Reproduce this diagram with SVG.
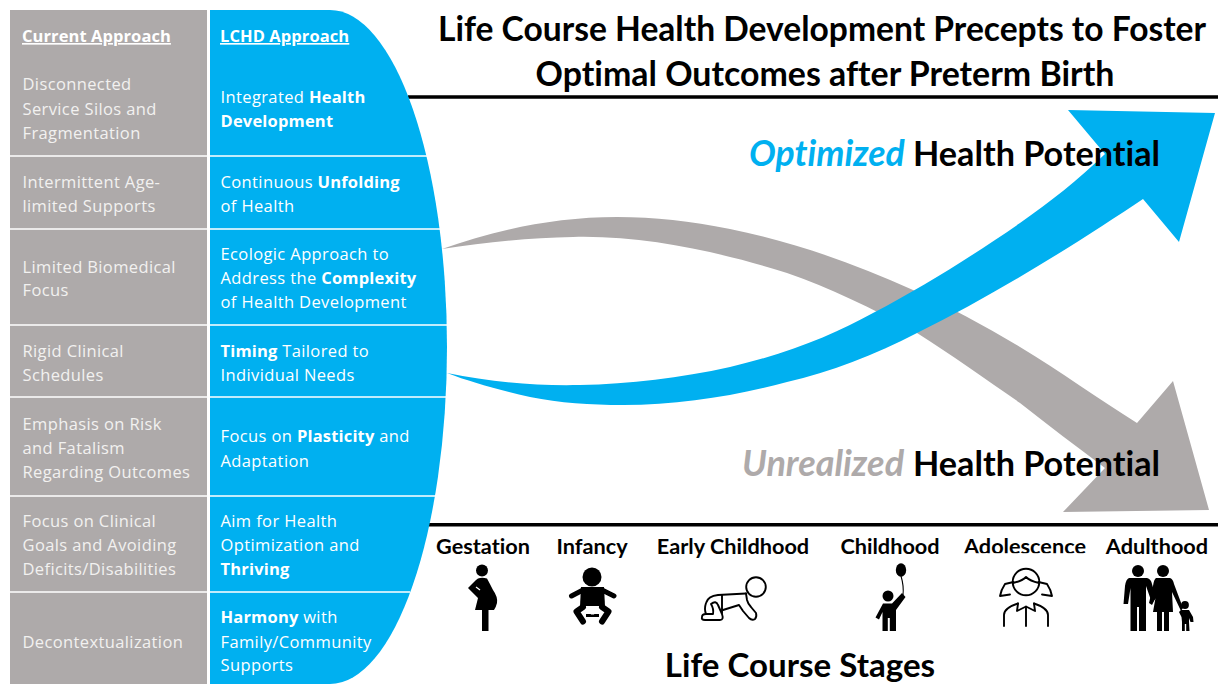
<svg xmlns="http://www.w3.org/2000/svg" width="1218" height="684" viewBox="0 0 1218 684">
<style>
text{font-variant-ligatures:none}
.l,.b{font-family:"Open Sans","Noto Sans",sans-serif;font-size:16.5px;letter-spacing:.38px}
.l{fill:#f2f1f0}
.b{fill:#fff}
.h{font-weight:700;text-decoration:underline;fill:#fff;letter-spacing:.08px}
.s{font-weight:700;letter-spacing:.18px}
.t{font-family:Lato,"Noto Sans",sans-serif;font-weight:700;fill:#000}
.st{font-size:21.7px;text-anchor:middle}
.sep{stroke:#fff;stroke-width:1.6}
.rule{stroke:#000;stroke-width:3.6}
.ol{fill:none;stroke:#000;stroke-width:1.9;stroke-linecap:round;stroke-linejoin:round}
.limb{fill:none;stroke:#000;stroke-linecap:round;stroke-linejoin:round}
</style>
<rect width="1218" height="684" fill="#fff"/>
<g id="title"><text class="t" x="822" y="41" font-size="33.6" text-anchor="middle">Life Course Health Development Precepts to Foster</text>
<text class="t" x="825" y="85.500" font-size="33.9" text-anchor="middle">Optimal Outcomes after Preterm Birth</text></g>
<path class="rule" d="M408 97H1218M429 524.7H1218"/>
<g id="connectors">
<path id="arrow-unrealized" fill="#aeaaaa" d="M442 249C495 230 555 217 617 217C655 217 690 221 730 229C795 242 855 264 913 290C950 307 985 326 1020 347C1060 371 1100 400 1137 423L1173 381L1209 510L1063 512L1105 468C1077 447 1048 425 1020 403C987 380 952 355 917 333C870 307 830 288 787 273C730 255 650 235 573 237C530 238 485 242 442 249Z"/>
<path id="arrow-optimized" fill="#00b0f0" d="M447 373C490 382 535 386 580 385C630 384 680 378 730 367C790 353 835 334 873 313C925 286 975 254 1020 223C1050 202 1078 180 1105 154L1068 110L1215 113L1179 242L1143 199C1085 238 1000 292 917 333C875 355 830 372 787 382C735 396 680 405 623 405C590 405 560 403 530 397C500 390 470 382 447 373Z"/>
</g>
<g id="current">
<rect x="10" y="10" width="197" height="674" fill="#aeaaaa"/>
</g>
<g id="lchd">
<path d="M210 10H330A117 337 0 0 1 330 684H210Z" fill="#00b0f0"/>
</g>
<path class="sep" d="M10 156H427M10 229H441M10 325H447M10 397H446M10 496H437M10 592H410"/>
<g id="current-text">
<text class="b h" x="22" y="42">Current Approach</text>
<text class="l" x="22.5" y="90">Disconnected</text><text class="l" x="22.5" y="115">Service Silos and</text><text class="l" x="22.5" y="139">Fragmentation</text>
<text class="l" x="22.5" y="188">Intermittent Age-</text><text class="l" x="22.5" y="212">limited Supports</text>
<text class="l" x="22.5" y="273">Limited Biomedical</text><text class="l" x="22.5" y="296">Focus</text>
<text class="l" x="22.5" y="357">Rigid Clinical</text><text class="l" x="22.5" y="381">Schedules</text>
<text class="l" x="22.5" y="430">Emphasis on Risk</text><text class="l" x="22.5" y="454">and Fatalism</text><text class="l" x="22.5" y="478">Regarding Outcomes</text>
<text class="l" x="22.5" y="527">Focus on Clinical</text><text class="l" x="22.5" y="551">Goals and Avoiding</text><text class="l" x="22.5" y="575">Deficits/Disabilities</text>
<text class="l" x="22.5" y="648">Decontextualization</text>
</g>
<g id="lchd-text">
<text class="b h" x="220" y="42">LCHD Approach</text>
<text class="b" x="220.5" y="103">Integrated <tspan class="s">Health</tspan></text><text class="b s" x="220.5" y="127">Development</text>
<text class="b" x="220.5" y="188">Continuous <tspan class="s">Unfolding</tspan></text><text class="b" x="220.5" y="212">of Health</text>
<text class="b" x="220.5" y="260">Ecologic Approach to</text><text class="b" x="220.5" y="284">Address the <tspan class="s">Complexity</tspan></text><text class="b" x="220.5" y="308">of Health Development</text>
<text class="b" x="220.5" y="357"><tspan class="s">Timing</tspan> Tailored to</text><text class="b" x="220.5" y="381">Individual Needs</text>
<text class="b" x="220.5" y="442">Focus on <tspan class="s">Plasticity</tspan> and</text><text class="b" x="220.5" y="467">Adaptation</text>
<text class="b" x="220.5" y="527">Aim for Health</text><text class="b" x="220.5" y="551">Optimization and</text><text class="b s" x="220.5" y="575">Thriving</text>
<text class="b" x="220.5" y="623"><tspan class="s">Harmony</tspan> with</text><text class="b" x="220.5" y="648">Family/Community</text><text class="b" x="220.5" y="671">Supports</text>
</g>
<g id="labels">
<text class="t" y="165.500"><tspan x="749" font-size="35.600" fill="#00b0f0" font-style="italic">Optimized</tspan><tspan x="913" font-size="34.200">Health Potential</tspan></text>
<text class="t" y="475.500"><tspan x="742" font-size="36" fill="#aeaaaa" font-style="italic">Unrealized</tspan><tspan x="913" font-size="34.200">Health Potential</tspan></text>
</g>
<g id="stages">
<text class="t st" x="483" y="554">Gestation</text>
<text class="t st" x="592" y="554">Infancy</text>
<text class="t st" x="733" y="554">Early Childhood</text>
<text class="t st" x="890" y="554">Childhood</text>
<text class="t st" x="1025" y="554">Adolescence</text>
<text class="t st" x="1157" y="554">Adulthood</text>
<rect x="962" y="553.2" width="126" height="7" fill="#fff"/>
<text class="t" x="800" y="677" font-size="33.1" text-anchor="middle">Life Course Stages</text>
</g>
<g id="icon-gestation">
<circle cx="482" cy="570.5" r="6"/>
<path d="M478 578.5Q482 577 487 578.5Q490 584 493 590Q498 597 497 603Q496 607 494 610H475L478 598L468 588L476 580Z"/>
<rect x="482" y="610" width="6.5" height="21"/>
<path d="M476 587L480 590" stroke="#fff" stroke-width="1.2"/>
</g>
<g id="icon-infancy">
<circle cx="592" cy="577" r="9.5"/>
<path class="limb" stroke-width="5" d="M571.500 596L583 590M614 596L602 590"/>
<path d="M581 587H604L605 606H580Z"/>
<path class="limb" stroke-width="6" d="M583 607L576.500 611.500L583 621.500M602 607L608.500 611.500L602 621.500"/>
<path d="M586 614H599V617H586Z"/>
<path fill="#fff" d="M586.500 606.500H598.500L594 614.500H591Z"/>
</g>
<g id="icon-early-childhood" class="ol">
<circle cx="756" cy="587" r="9.800"/>
<path d="M746 593.500L718 595Q708 596 706 603Q704 609 706 614"/>
<path d="M722 595V613"/>
<path d="M746 593.500L747 600Q748 604 751 607L756 613Q757 617 755 619Q752 621 749 618L743 611L739 605L723 610"/>
<path d="M711 604Q716 600 718 605L722 614Q724 620 720 620H705Q701 620 702 617Q702 614 706 614H713Q714 609 711 604Z"/>
</g>
<g id="icon-childhood">
<ellipse cx="901" cy="570" rx="5.200" ry="6.800"/>
<path d="M901 576Q904 586 903 595" fill="none" stroke="#000" stroke-width="1.100"/>
<circle cx="888" cy="596" r="5.500"/>
<path d="M883 603.500H892L902 593L905.500 597L896 610V631H889.800V618H887.800V631H882.500V612L879 619.500L875.500 617.500Z"/>
</g>
<g id="icon-adolescence" class="ol">
<circle cx="1026" cy="582" r="13.300"/>
<path d="M1013 583Q1022 581 1026 577Q1030 581 1039 583"/>
<path d="M1013.500 582L1005 584Q1001 590 1000 596L1010 594.500"/>
<path d="M1038.500 582L1047 584Q1051 590 1052 596L1042 594.500"/>
<path d="M1004 626V615Q1004 608 1018 603.500M1048 626V615Q1048 608 1034 603.500"/>
<path d="M1018 603.500L1017 611L1026 606.500L1035 611L1034 603.500M1026 606.500V626"/>
</g>
<g id="icon-adulthood">
<circle cx="1138" cy="571" r="6"/>
<circle cx="1163" cy="571" r="6"/>
<circle cx="1185" cy="605" r="3.900"/>
<path d="M1129 578H1147Q1151 579 1152 584L1156 598L1152 603L1146 586V631H1139V607H1137V631H1130.500V588L1128 604L1123.500 604L1125 586Q1126 579 1129 578Z"/>
<path d="M1156 578H1170Q1173 579 1174 584L1183 608L1181 611L1172 592L1173 612H1169V631H1164V612H1162V631H1157V612H1153L1155.500 598L1152 605L1149 603L1153 586Q1154 579 1156 578Z"/>
<path d="M1181 610H1189L1193 617L1193.500 622L1190.500 622L1189 618V622L1189.500 631H1186.200V624H1184.800V631H1182V622L1181.500 617L1179 612Z"/>
</g>
</svg>
